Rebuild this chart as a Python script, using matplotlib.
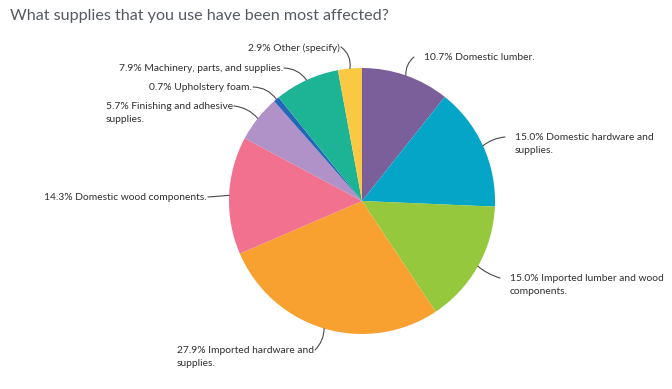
import numpy as np
import matplotlib.pyplot as plt

plt.rcParams["font.family"] = ["Lato", "DejaVu Sans"]

# slices in drawing order, clockwise from 12 o'clock
labels = ['Domestic lumber.', 'Domestic hardware and\nsupplies.',
          'Imported lumber and wood\ncomponents.', 'Imported hardware and\nsupplies.',
          'Domestic wood components.', 'Finishing and adhesive\nsupplies.',
          'Upholstery foam.', 'Machinery, parts, and supplies.', 'Other (specify)']
shares = [10.7, 15.0, 15.0, 27.9, 14.3, 5.7, 0.7, 7.9, 2.9]
colors = ['#7b5f9b', '#05a5c8', '#95c83d', '#f8a131', '#f2718f',
          '#b091c8', '#2367b8', '#1db496', '#fbc843']

# label layout: where the leader starts (image pixels), text side, curvature
label_pos = [(414, 57, 'left', 0.25), (505, 137, 'left', 0.15),
             (500, 278, 'left', -0.1), (315, 350, 'right', 0.2),
             (208, 197, 'right', 0.0), (234, 106, 'right', -0.2),
             (253, 87, 'right', -0.25), (284, 68, 'right', -0.25),
             (341, 47, 'right', -0.3)]

fig = plt.figure(figsize=(6.72, 3.89), dpi=100)
ax = fig.add_axes([0, 0, 1, 1])

cx, cy, r = 362, 201, 133
wedges, _ = ax.pie(shares, colors=colors, startangle=-90, counterclock=True,
                   center=(cx, cy), radius=r, frame=True)
ax.set_xlim(0, 672)
ax.set_ylim(389, 0)
ax.set_aspect('equal')
ax.axis('off')

for w, lab, val, (lx, ly, side, rad) in zip(wedges, labels, shares, label_pos):
    mid = np.deg2rad((w.theta1 + w.theta2) / 2)
    px, py = cx + r * np.cos(mid), cy + r * np.sin(mid)
    ax.annotate('', xy=(px, py), xytext=(lx, ly),
                arrowprops=dict(arrowstyle='-', color='#4a4a4a', lw=0.8,
                                connectionstyle=f'arc3,rad={rad}',
                                shrinkA=0, shrinkB=0))
    txt = f'{val:.1f}% {lab}'
    if side == 'left':
        ax.text(lx + 10, ly - 4, txt, ha='left', va='top', fontsize=7.4,
                color='#2f2f2f', linespacing=1.5)
    else:
        ax.text(lx - 1, ly - 4, txt, ha='right', va='top', fontsize=7.4,
                color='#2f2f2f', linespacing=1.5, multialignment='left')

fig.text(10 / 672, 1 - 16 / 389, 'What supplies that you use have been most affected?',
         ha='left', va='center', fontsize=11.6, color='#555a60')

fig.savefig('out.png', dpi=100)
